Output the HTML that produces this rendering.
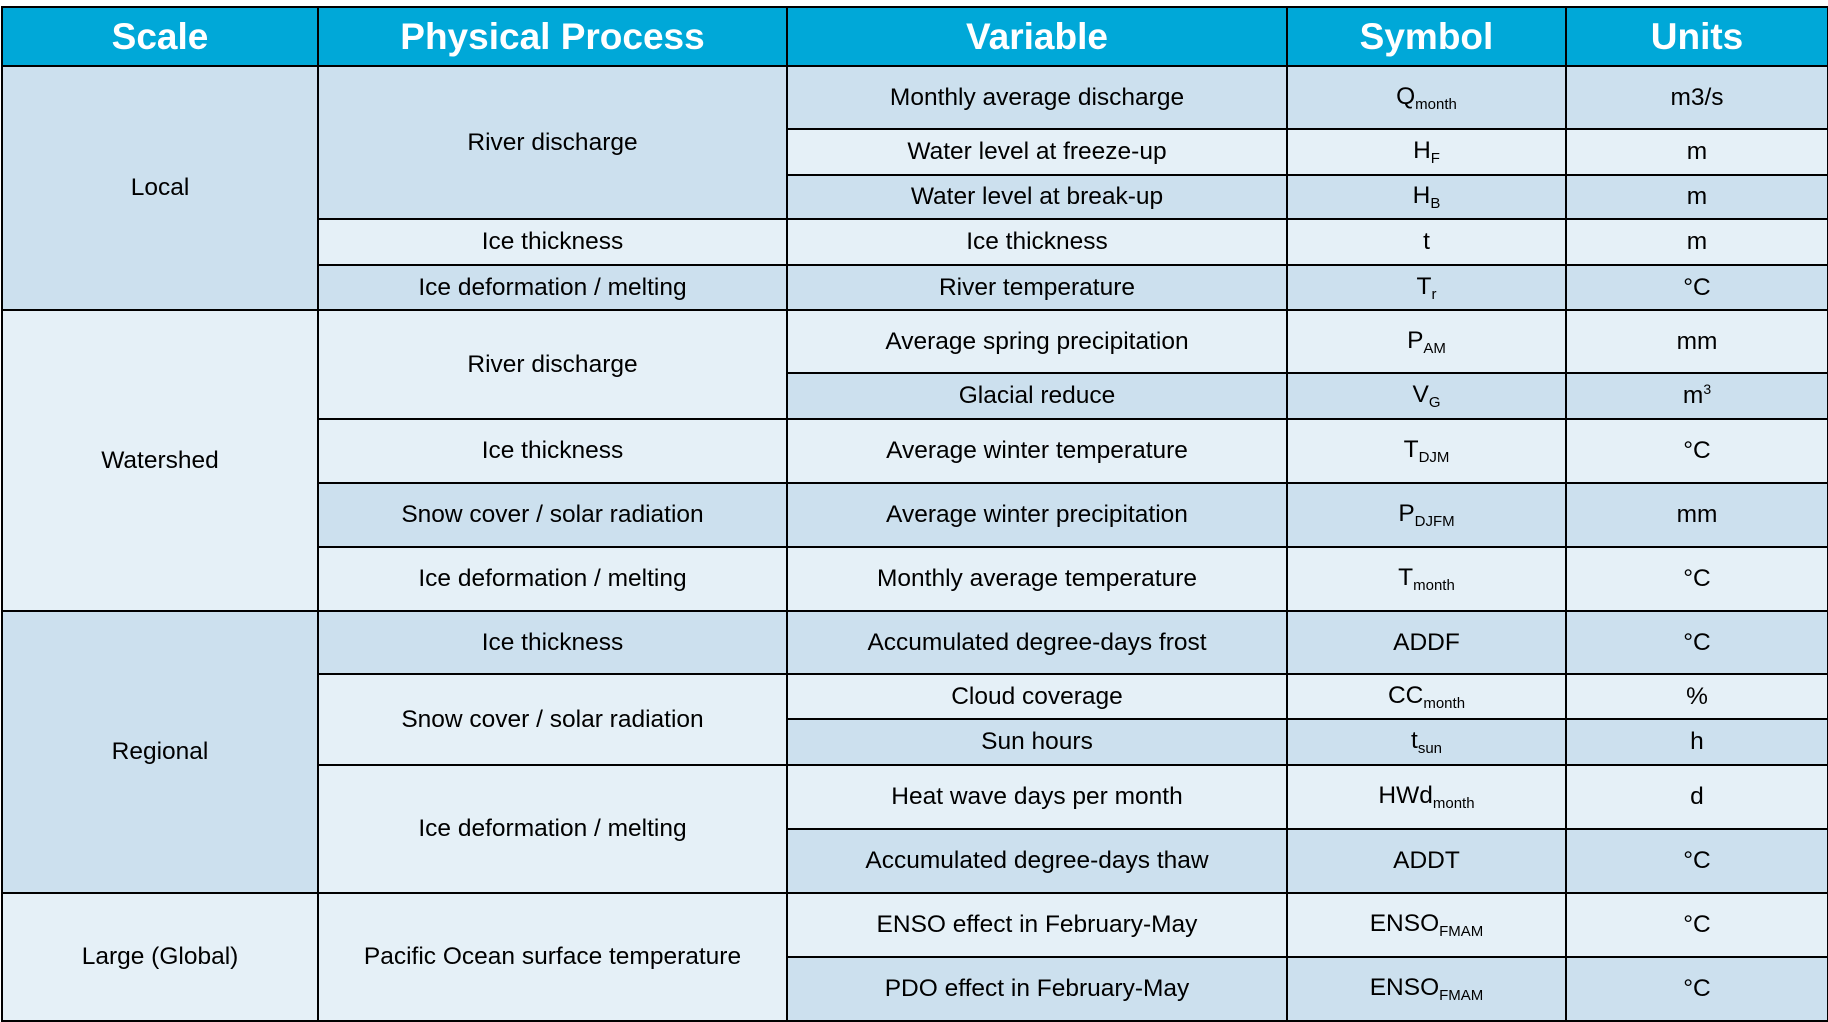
<!DOCTYPE html>
<html><head><meta charset="utf-8"><style>
html,body{margin:0;padding:0;background:#fff;width:1828px;height:1022px;overflow:hidden}
table{position:absolute;left:1px;top:6px;border-collapse:collapse;table-layout:fixed;width:1826px;font-family:"Liberation Sans",Arial,sans-serif;font-size:24.5px;color:#000}
td,th{border:2.5px solid #000;text-align:center;vertical-align:middle;padding:0}
th{background:#00a8d8;color:#fff;font-size:37px;font-weight:bold;height:57px}
.d{background:#cce0ee}.l{background:#e5f0f7}
sub{font-size:15px;vertical-align:-5px}
sup{font-size:14px}
</style></head><body>
<table>
<colgroup><col style="width:316px"><col style="width:469px"><col style="width:500px"><col style="width:279px"><col style="width:262px"></colgroup>
<tr><th>Scale</th><th>Physical Process</th><th>Variable</th><th>Symbol</th><th>Units</th></tr>
<tr style="height:63px"><td class="d" rowspan="5">Local</td><td class="d" rowspan="3">River discharge</td><td class="d">Monthly average discharge</td><td class="d">Q<sub>month</sub></td><td class="d">m3/s</td></tr>
<tr style="height:46px"><td class="l">Water level at freeze-up</td><td class="l">H<sub>F</sub></td><td class="l">m</td></tr>
<tr style="height:44px"><td class="d">Water level at break-up</td><td class="d">H<sub>B</sub></td><td class="d">m</td></tr>
<tr style="height:46px"><td class="l">Ice thickness</td><td class="l">Ice thickness</td><td class="l">t</td><td class="l">m</td></tr>
<tr style="height:45px"><td class="d">Ice deformation / melting</td><td class="d">River temperature</td><td class="d">T<sub>r</sub></td><td class="d">°C</td></tr>
<tr style="height:63px"><td class="l" rowspan="5">Watershed</td><td class="l" rowspan="2">River discharge</td><td class="l">Average spring precipitation</td><td class="l">P<sub>AM</sub></td><td class="l">mm</td></tr>
<tr style="height:46px"><td class="d">Glacial reduce</td><td class="d">V<sub>G</sub></td><td class="d">m<sup>3</sup></td></tr>
<tr style="height:64px"><td class="l">Ice thickness</td><td class="l">Average winter temperature</td><td class="l">T<sub>DJM</sub></td><td class="l">°C</td></tr>
<tr style="height:64px"><td class="d">Snow cover / solar radiation</td><td class="d">Average winter precipitation</td><td class="d">P<sub>DJFM</sub></td><td class="d">mm</td></tr>
<tr style="height:64px"><td class="l">Ice deformation / melting</td><td class="l">Monthly average temperature</td><td class="l">T<sub>month</sub></td><td class="l">°C</td></tr>
<tr style="height:63px"><td class="d" rowspan="5">Regional</td><td class="d">Ice thickness</td><td class="d">Accumulated degree-days frost</td><td class="d">ADDF</td><td class="d">°C</td></tr>
<tr style="height:45px"><td class="l" rowspan="2">Snow cover / solar radiation</td><td class="l">Cloud coverage</td><td class="l">CC<sub>month</sub></td><td class="l">%</td></tr>
<tr style="height:46px"><td class="d">Sun hours</td><td class="d">t<sub>sun</sub></td><td class="d">h</td></tr>
<tr style="height:64px"><td class="l" rowspan="2">Ice deformation / melting</td><td class="l">Heat wave days per month</td><td class="l">HWd<sub>month</sub></td><td class="l">d</td></tr>
<tr style="height:64px"><td class="d">Accumulated degree-days thaw</td><td class="d">ADDT</td><td class="d">°C</td></tr>
<tr style="height:64px"><td class="l" rowspan="2">Large (Global)</td><td class="l" rowspan="2">Pacific Ocean surface temperature</td><td class="l">ENSO effect in February-May</td><td class="l">ENSO<sub>FMAM</sub></td><td class="l">°C</td></tr>
<tr style="height:64px"><td class="d">PDO effect in February-May</td><td class="d">ENSO<sub>FMAM</sub></td><td class="d">°C</td></tr>
</table>
</body></html>
